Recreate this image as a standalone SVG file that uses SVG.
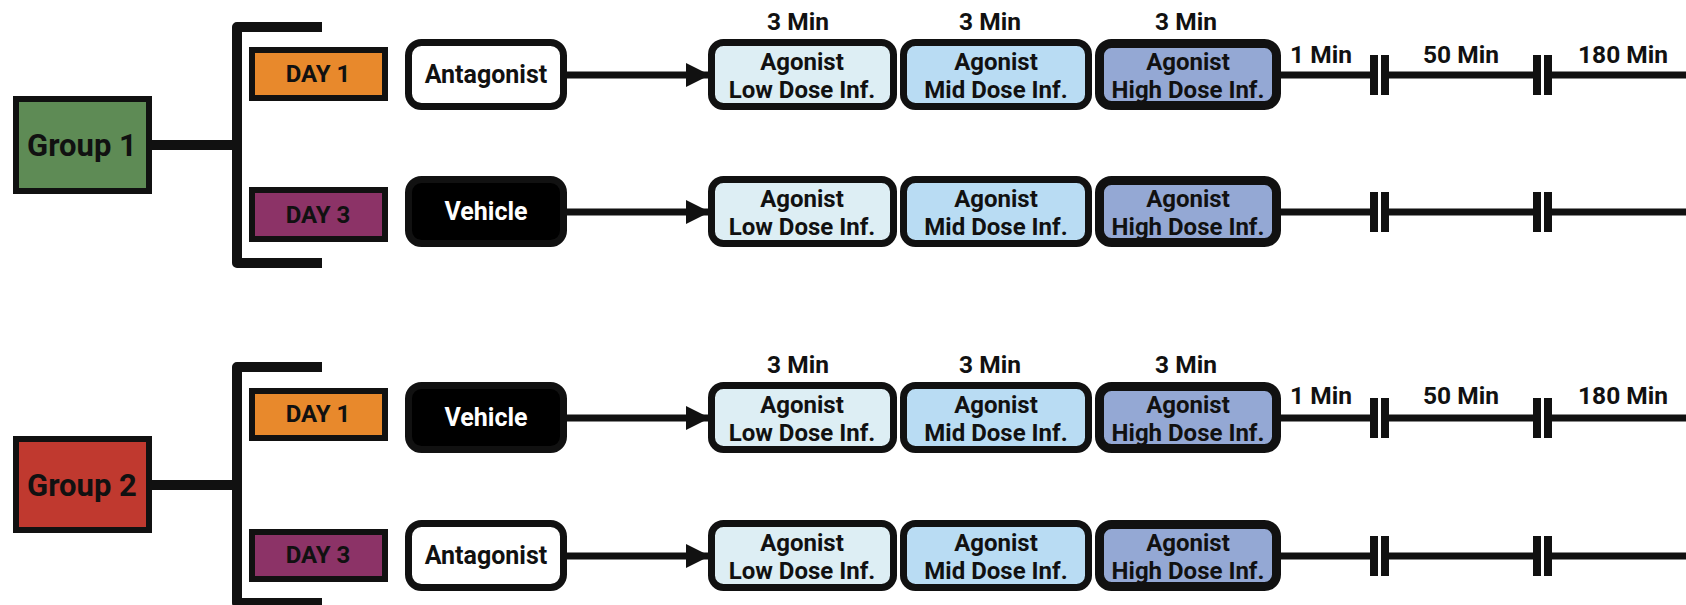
<svg xmlns="http://www.w3.org/2000/svg" width="1686" height="605" viewBox="0 0 1686 605">
  <style>
    text { font-family: Roboto, "Liberation Sans", sans-serif; font-weight: 700; fill: #111; text-anchor: middle; }
    .grp { stroke: #111; stroke-width: 6; }
    .grp-label { font-size: 31px; }
    .day { stroke: #111; stroke-width: 6; }
    .day-label { font-size: 24px; }
    .treat { stroke: #111; stroke-width: 7; }
    .treat-label { font-size: 25px; }
    .ag { stroke: #111; stroke-width: 7; }
    .ag-high { stroke-width: 9; }
    .ag-label { font-size: 24px; }
    .time { font-size: 24.5px; }
    .wire { stroke: #111; fill: none; }
    .bar { fill: #111; }
    .low { fill: #ddeef4; }
    .mid { fill: #b9dcf3; }
    .high { fill: #94a8d4; }
  </style>
  <defs>
    <marker id="head" markerUnits="userSpaceOnUse" markerWidth="26" markerHeight="26" viewBox="0 0 26 26" refX="24" refY="13" orient="auto">
      <polygon points="0,1 24,13 0,25" fill="#111"/>
    </marker>
  </defs>

  <rect width="1686" height="605" fill="#ffffff"/>

  <!-- connectors -->
  <g id="connectors" class="wire">
    <!-- group to day brackets -->
    <line x1="150" y1="145" x2="237" y2="145" stroke-width="10"/>
    <path d="M322 27 H237 V263 H322" stroke-width="10" stroke-linejoin="round"/>
    <line x1="150" y1="485" x2="237" y2="485" stroke-width="10"/>
    <path d="M322 367 H237 V603 H322" stroke-width="10" stroke-linejoin="round"/>
    <!-- treatment to infusion arrows -->
    <line x1="567" y1="75" x2="710" y2="75" stroke-width="7" marker-end="url(#head)"/>
    <line x1="567" y1="212" x2="710" y2="212" stroke-width="7" marker-end="url(#head)"/>
    <line x1="567" y1="418" x2="710" y2="418" stroke-width="7" marker-end="url(#head)"/>
    <line x1="567" y1="556" x2="710" y2="556" stroke-width="7" marker-end="url(#head)"/>
    <!-- timelines with axis breaks -->
    <g stroke-width="7">
      <path d="M1280 75 H1370 M1389 75 H1533 M1552 75 H1686"/>
      <path d="M1280 212 H1370 M1389 212 H1533 M1552 212 H1686"/>
      <path d="M1280 418 H1370 M1389 418 H1533 M1552 418 H1686"/>
      <path d="M1280 556 H1370 M1389 556 H1533 M1552 556 H1686"/>
    </g>
    <g class="bar" stroke="none">
      <rect x="1370" y="55" width="8" height="40"/><rect x="1381" y="55" width="8" height="40"/>
      <rect x="1533" y="55" width="8" height="40"/><rect x="1544" y="55" width="8" height="40"/>
      <rect x="1370" y="192" width="8" height="40"/><rect x="1381" y="192" width="8" height="40"/>
      <rect x="1533" y="192" width="8" height="40"/><rect x="1544" y="192" width="8" height="40"/>
      <rect x="1370" y="398" width="8" height="40"/><rect x="1381" y="398" width="8" height="40"/>
      <rect x="1533" y="398" width="8" height="40"/><rect x="1544" y="398" width="8" height="40"/>
      <rect x="1370" y="536" width="8" height="40"/><rect x="1381" y="536" width="8" height="40"/>
      <rect x="1533" y="536" width="8" height="40"/><rect x="1544" y="536" width="8" height="40"/>
    </g>
  </g>

  <!-- time labels -->
  <g id="time-labels">
    <text class="time" x="798" y="30">3 Min</text>
    <text class="time" x="990" y="30">3 Min</text>
    <text class="time" x="1186" y="30">3 Min</text>
    <text class="time" x="1321" y="63">1 Min</text>
    <text class="time" x="1461" y="63">50 Min</text>
    <text class="time" x="1623" y="63">180 Min</text>
    <text class="time" x="798" y="373">3 Min</text>
    <text class="time" x="990" y="373">3 Min</text>
    <text class="time" x="1186" y="373">3 Min</text>
    <text class="time" x="1321" y="404">1 Min</text>
    <text class="time" x="1461" y="404">50 Min</text>
    <text class="time" x="1623" y="404">180 Min</text>
  </g>

  <!-- Group 1 -->
  <g id="group1">
    <rect class="grp" x="16" y="99" width="133" height="92" fill="#5e8b55"/>
    <text class="grp-label" x="82" y="156">Group 1</text>
  </g>
  <g id="g1-day1">
    <rect class="day" x="252" y="50" width="133" height="48" fill="#e8892c"/>
    <text class="day-label" x="318" y="82">DAY 1</text>
  </g>
  <g id="g1-day3">
    <rect class="day" x="252" y="190" width="133" height="49" fill="#8c3367"/>
    <text class="day-label" x="318" y="223">DAY 3</text>
  </g>
  <g id="g1-antagonist">
    <rect class="treat" x="408.5" y="42.5" width="155" height="64" rx="13" fill="#ffffff"/>
    <text class="treat-label" x="486" y="83">Antagonist</text>
  </g>
  <g id="g1-vehicle">
    <rect class="treat" x="408.5" y="179.5" width="155" height="64" rx="13" fill="#000000"/>
    <text class="treat-label" x="486" y="220" style="fill:#ffffff">Vehicle</text>
  </g>
  <g id="g1-d1-low">
    <rect class="ag low" x="711.5" y="42.5" width="182" height="64" rx="12"/>
    <text class="ag-label" x="802" y="70">Agonist</text>
    <text class="ag-label" x="802" y="98">Low Dose Inf.</text>
  </g>
  <g id="g1-d1-mid">
    <rect class="ag mid" x="903.5" y="42.5" width="185" height="64" rx="12"/>
    <text class="ag-label" x="996" y="70">Agonist</text>
    <text class="ag-label" x="996" y="98">Mid Dose Inf.</text>
  </g>
  <g id="g1-d1-high">
    <rect class="ag ag-high high" x="1099.5" y="43.5" width="177" height="62" rx="12"/>
    <text class="ag-label" x="1188" y="70">Agonist</text>
    <text class="ag-label" x="1188" y="98">High Dose Inf.</text>
  </g>
  <g id="g1-d3-low">
    <rect class="ag low" x="711.5" y="179.5" width="182" height="64" rx="12"/>
    <text class="ag-label" x="802" y="207">Agonist</text>
    <text class="ag-label" x="802" y="235">Low Dose Inf.</text>
  </g>
  <g id="g1-d3-mid">
    <rect class="ag mid" x="903.5" y="179.5" width="185" height="64" rx="12"/>
    <text class="ag-label" x="996" y="207">Agonist</text>
    <text class="ag-label" x="996" y="235">Mid Dose Inf.</text>
  </g>
  <g id="g1-d3-high">
    <rect class="ag ag-high high" x="1099.5" y="180.5" width="177" height="62" rx="12"/>
    <text class="ag-label" x="1188" y="207">Agonist</text>
    <text class="ag-label" x="1188" y="235">High Dose Inf.</text>
  </g>

  <!-- Group 2 -->
  <g id="group2">
    <rect class="grp" x="16" y="439" width="133" height="91" fill="#c0392f"/>
    <text class="grp-label" x="82" y="496">Group 2</text>
  </g>
  <g id="g2-day1">
    <rect class="day" x="252" y="391" width="133" height="47" fill="#e8892c"/>
    <text class="day-label" x="318" y="422">DAY 1</text>
  </g>
  <g id="g2-day3">
    <rect class="day" x="252" y="532" width="133" height="47" fill="#8c3367"/>
    <text class="day-label" x="318" y="563">DAY 3</text>
  </g>
  <g id="g2-vehicle">
    <rect class="treat" x="408.5" y="385.5" width="155" height="64" rx="13" fill="#000000"/>
    <text class="treat-label" x="486" y="426" style="fill:#ffffff">Vehicle</text>
  </g>
  <g id="g2-antagonist">
    <rect class="treat" x="408.5" y="523.5" width="155" height="64" rx="13" fill="#ffffff"/>
    <text class="treat-label" x="486" y="564">Antagonist</text>
  </g>
  <g id="g2-d1-low">
    <rect class="ag low" x="711.5" y="385.5" width="182" height="64" rx="12"/>
    <text class="ag-label" x="802" y="413">Agonist</text>
    <text class="ag-label" x="802" y="441">Low Dose Inf.</text>
  </g>
  <g id="g2-d1-mid">
    <rect class="ag mid" x="903.5" y="385.5" width="185" height="64" rx="12"/>
    <text class="ag-label" x="996" y="413">Agonist</text>
    <text class="ag-label" x="996" y="441">Mid Dose Inf.</text>
  </g>
  <g id="g2-d1-high">
    <rect class="ag ag-high high" x="1099.5" y="386.5" width="177" height="62" rx="12"/>
    <text class="ag-label" x="1188" y="413">Agonist</text>
    <text class="ag-label" x="1188" y="441">High Dose Inf.</text>
  </g>
  <g id="g2-d3-low">
    <rect class="ag low" x="711.5" y="523.5" width="182" height="64" rx="12"/>
    <text class="ag-label" x="802" y="551">Agonist</text>
    <text class="ag-label" x="802" y="579">Low Dose Inf.</text>
  </g>
  <g id="g2-d3-mid">
    <rect class="ag mid" x="903.5" y="523.5" width="185" height="64" rx="12"/>
    <text class="ag-label" x="996" y="551">Agonist</text>
    <text class="ag-label" x="996" y="579">Mid Dose Inf.</text>
  </g>
  <g id="g2-d3-high">
    <rect class="ag ag-high high" x="1099.5" y="524.5" width="177" height="62" rx="12"/>
    <text class="ag-label" x="1188" y="551">Agonist</text>
    <text class="ag-label" x="1188" y="579">High Dose Inf.</text>
  </g>
</svg>
